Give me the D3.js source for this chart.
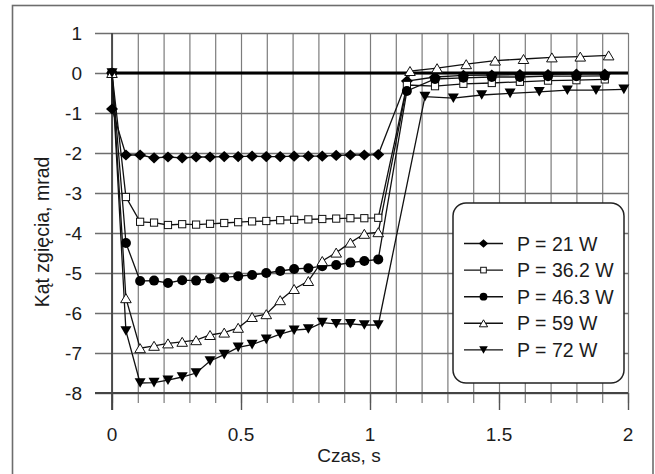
<!DOCTYPE html>
<html>
<head>
<meta charset="utf-8">
<script src="https://cdn.jsdelivr.net/npm/d3@7"></script>
<style>
  body { margin: 0; background: #fff; }
  svg { display: block; }
  text { font-family: "Liberation Sans", Arial, sans-serif; fill: #1c1c1c; }
</style>
</head>
<body>
<svg id="chart" width="655" height="474"></svg>
<script>
// ---- data -------------------------------------------------------------
const xTicks = [0, 0.5, 1, 1.5, 2];
const yTicks = [1, 0, -1, -2, -3, -4, -5, -6, -7, -8];
const xTitle = "Czas, s";
const yTitle = "Kąt zgięcia, mrad";
const seriesNames = ["P = 21 W", "P = 36.2 W", "P = 46.3 W", "P = 59 W", "P = 72 W"];

// sampling times while the beam is on (s)
const tHeat = [0.054, 0.109, 0.163, 0.217, 0.272, 0.326, 0.380, 0.435, 0.489, 0.543,
               0.598, 0.652, 0.706, 0.761, 0.815, 0.869, 0.924, 0.978, 1.032];
// sampling times after switch-off (s)
const tCoolA = [1.143, 1.252, 1.362, 1.472, 1.581, 1.690, 1.800, 1.910];
const tCool59 = [1.155, 1.260, 1.373, 1.485, 1.595, 1.705, 1.815, 1.925];
const tCool72 = [1.213, 1.323, 1.433, 1.543, 1.656, 1.765, 1.876, 1.984];

// bending angle (mrad)
const angle21 = [0, -0.9, -2.05, -2.05, -2.12, -2.10, -2.12, -2.10, -2.10, -2.09, -2.09, -2.08,
                 -2.09, -2.09, -2.08, -2.08, -2.08, -2.06, -2.05, -2.05, -2.04,
                 -0.20, -0.10, -0.06, -0.05, -0.04, -0.04, -0.03, -0.03];
const angle36 = [0, -3.10, -3.72, -3.74, -3.80, -3.78, -3.79, -3.77, -3.75, -3.73, -3.71, -3.70,
                 -3.68, -3.67, -3.66, -3.65, -3.64, -3.63, -3.63, -3.62,
                 -0.30, -0.33, -0.27, -0.25, -0.22, -0.19, -0.18, -0.16];
const angle46 = [0, -4.25, -5.20, -5.19, -5.25, -5.18, -5.19, -5.14, -5.11, -5.08, -5.05, -5.00,
                 -4.95, -4.90, -4.88, -4.83, -4.80, -4.74, -4.70, -4.66,
                 -0.45, -0.15, -0.12, -0.10, -0.10, -0.08, -0.08, -0.07];
const angle59 = [0, -5.63, -6.88, -6.82, -6.76, -6.72, -6.68, -6.55, -6.49, -6.37, -6.10, -6.03,
                 -5.68, -5.40, -5.20, -4.70, -4.49, -4.24, -4.02, -3.98,
                 0.05, 0.12, 0.22, 0.31, 0.35, 0.39, 0.41, 0.44];
const angle72 = [0, -6.45, -7.75, -7.74, -7.68, -7.60, -7.50, -7.20, -7.04, -6.86, -6.79, -6.66,
                 -6.53, -6.43, -6.40, -6.24, -6.27, -6.27, -6.30, -6.30,
                 -0.59, -0.63, -0.55, -0.51, -0.47, -0.43, -0.43, -0.41];

const series = [
  { name: seriesNames[0], marker: "diamond", time: [0, 0, ...tHeat, ...tCoolA], value: angle21 },
  { name: seriesNames[1], marker: "square",  time: [0, ...tHeat, ...tCoolA],    value: angle36 },
  { name: seriesNames[2], marker: "circle",  time: [0, ...tHeat, ...tCoolA],    value: angle46 },
  { name: seriesNames[3], marker: "triUp",   time: [0, ...tHeat, ...tCool59],   value: angle59 },
  { name: seriesNames[4], marker: "triDown", time: [0, ...tHeat, ...tCool72],   value: angle72 }
];

// ---- layout -----------------------------------------------------------
const svg = d3.select("#chart");
const x = d3.scaleLinear().domain([0, 2]).range([112, 628]);
const y = d3.scaleLinear().domain([-8, 1]).range([393, 33]);
const FONT = 19;

// outer frame
svg.append("rect")
  .attr("x", 12.5).attr("y", 5.5).attr("width", 640.5).attr("height", 480)
  .attr("fill", "#fff").attr("stroke", "#6d6d6d").attr("stroke-width", 1.6);

// vertical grid every 0.1 s, continuing below the axis as tick marks
const xMinor = d3.range(0, 21).map(i => i / 10);
const gridX = d3.axisBottom(x).tickValues(xMinor).tickSize(-(y(-8) - y(1)) - 10).tickFormat("");
svg.append("g").attr("transform", `translate(0,${y(-8) + 10})`).call(gridX)
  .call(g => g.select(".domain").remove())
  .call(g => g.selectAll("line").attr("stroke", "#7c7c7c").attr("stroke-width", 1.2));

// longer major ticks on x
const majorX = d3.axisBottom(x).tickValues(xTicks).tickSize(17).tickFormat("");
svg.append("g").attr("transform", `translate(0,${y(-8)})`).call(majorX)
  .call(g => g.select(".domain").remove())
  .call(g => g.selectAll("line").attr("stroke", "#555").attr("stroke-width", 1.4));

// horizontal grid every 1 mrad, extending left as tick marks
const gridY = d3.axisLeft(y).tickValues(yTicks).tickSize(-(x(2) - x(0)) - 17).tickFormat("");
svg.append("g").attr("transform", `translate(${x(2)},0)`).call(gridY)
  .call(g => g.select(".domain").remove())
  .call(g => g.selectAll("line").attr("stroke", "#6e6e6e").attr("stroke-width", 1.3)
    .attr("transform", "scale(-1,1)"));

// axis lines
svg.append("line").attr("x1", x(0)).attr("x2", x(0)).attr("y1", y(1)).attr("y2", y(-8) + 17)
  .attr("stroke", "#444").attr("stroke-width", 1.8);
svg.append("line").attr("x1", x(0) - 17).attr("x2", x(2)).attr("y1", y(-8)).attr("y2", y(-8))
  .attr("stroke", "#444").attr("stroke-width", 1.8);

// tick labels (plain hyphen-minus, as printed)
svg.append("g").selectAll("text").data(yTicks).join("text")
  .attr("x", 82).attr("y", d => y(d)).attr("dy", "0.36em")
  .attr("text-anchor", "end").attr("font-size", FONT)
  .text(d => String(d));
svg.append("g").selectAll("text").data(xTicks).join("text")
  .attr("x", d => x(d)).attr("y", 440.5)
  .attr("text-anchor", "middle").attr("font-size", FONT)
  .text(d => String(d));

// axis titles
svg.append("text").attr("x", 349).attr("y", 462).attr("text-anchor", "middle")
  .attr("font-size", FONT).text(xTitle);
svg.append("text").attr("transform", "translate(49,232) rotate(-90)")
  .attr("text-anchor", "middle").attr("font-size", FONT + 0.5).text(yTitle);

// zero reference line
svg.append("line").attr("x1", x(0)).attr("x2", x(2)).attr("y1", y(0)).attr("y2", y(0))
  .attr("stroke", "#000").attr("stroke-width", 3);

// ---- markers ----------------------------------------------------------
function drawMarker(g, type, cx, cy, s) {
  const k = s || 1;
  if (type === "diamond") {
    const w = 6 * k, h = 5.6 * k;
    g.append("path").attr("d", `M${cx},${cy - h}L${cx + w},${cy}L${cx},${cy + h}L${cx - w},${cy}Z`)
      .attr("fill", "#000");
  } else if (type === "square") {
    const a = 3.6 * k;
    g.append("rect").attr("x", cx - a).attr("y", cy - a).attr("width", 2 * a).attr("height", 2 * a)
      .attr("fill", "#fff").attr("stroke", "#111").attr("stroke-width", 1);
  } else if (type === "circle") {
    g.append("circle").attr("cx", cx).attr("cy", cy).attr("r", 5 * k).attr("fill", "#000");
  } else if (type === "triUp") {
    const w = 5.3 * k, h = 4.5 * k;
    g.append("path").attr("d", `M${cx},${cy - h}L${cx + w},${cy + h}L${cx - w},${cy + h}Z`)
      .attr("fill", "#fff").attr("stroke", "#111").attr("stroke-width", 1);
  } else if (type === "triDown") {
    const w = 5.5 * k, h = 4.8 * k;
    g.append("path").attr("d", `M${cx - w},${cy - h}L${cx + w},${cy - h}L${cx},${cy + h}Z`)
      .attr("fill", "#000");
  }
}

// ---- series -----------------------------------------------------------
const line = d3.line().x(d => x(d[0])).y(d => y(d[1]));
const pts = s => s.time.map((t, i) => [t, s.value[i]]);

const linesG = svg.append("g");
series.forEach(s => {
  linesG.append("path").datum(pts(s)).attr("d", line)
    .attr("fill", "none").attr("stroke", "#111").attr("stroke-width", 1.3);
});
const marksG = svg.append("g");
series.forEach(s => {
  pts(s).forEach(p => drawMarker(marksG, s.marker, x(p[0]), y(p[1]), 1));
});

// ---- legend -----------------------------------------------------------
const leg = svg.append("g");
leg.append("rect").attr("x", 453).attr("y", 203).attr("width", 171).attr("height", 180)
  .attr("rx", 13).attr("fill", "#fff").attr("stroke", "#222").attr("stroke-width", 1.5);
series.forEach((s, i) => {
  const cy = 243.5 + i * 26.6;
  leg.append("line").attr("x1", 464).attr("x2", 503).attr("y1", cy).attr("y2", cy)
    .attr("stroke", "#111").attr("stroke-width", 1.4);
  drawMarker(leg, s.marker, 483.5, cy, 0.78);
  leg.append("text").attr("x", 517).attr("y", cy).attr("dy", "0.36em")
    .attr("font-size", FONT + 0.5).text(s.name);
});
</script>
</body>
</html>
